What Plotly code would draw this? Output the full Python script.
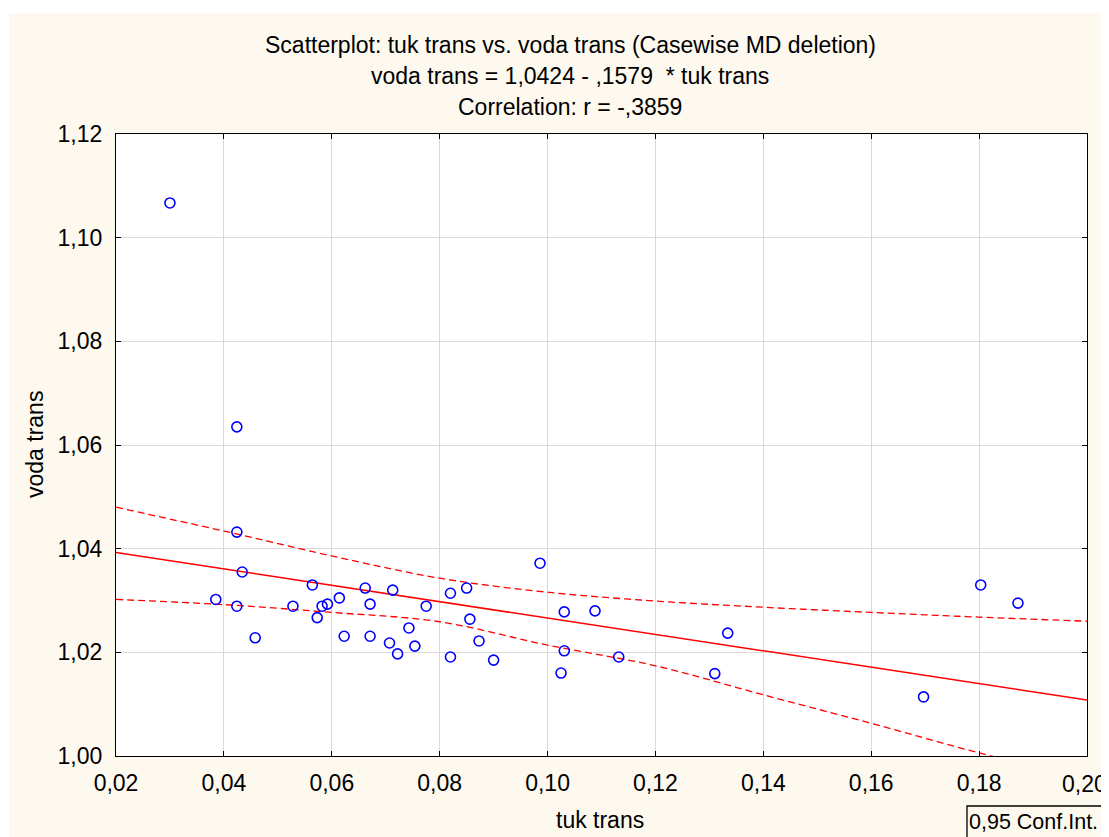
import plotly.graph_objects as go

# ---- data ----
tuk_trans = [0.0300, 0.0424, 0.0424, 0.0434, 0.0385, 0.0424, 0.0458, 0.0528, 0.0564, 0.0573,
             0.0582, 0.0592, 0.0614, 0.0623, 0.0662, 0.0671, 0.0671, 0.0707, 0.0713, 0.0722,
             0.0743, 0.0754, 0.0775, 0.0820, 0.0820, 0.0850, 0.0856, 0.0873, 0.0900, 0.0986,
             0.1025, 0.1031, 0.1031, 0.1088, 0.1132, 0.1310, 0.1334, 0.1697, 0.1803, 0.1872]
voda_trans = [1.1067, 1.0635, 1.0432, 1.0355, 1.0302, 1.0289, 1.0228, 1.0289, 1.0330, 1.0267,
              1.0289, 1.0293, 1.0305, 1.0231, 1.0324, 1.0293, 1.0231, 1.0218, 1.0320, 1.0197,
              1.0247, 1.0212, 1.0289, 1.0314, 1.0191, 1.0324, 1.0264, 1.0222, 1.0185, 1.0372,
              1.0160, 1.0278, 1.0203, 1.0280, 1.0191, 1.0159, 1.0237, 1.0114, 1.0330, 1.0295]

INTERCEPT = 1.0424
SLOPE = -0.1579

ci_x = [0.02, 0.04, 0.06, 0.08, 0.10, 0.12, 0.14, 0.16, 0.18, 0.20]
ci_upper = [1.0480, 1.0434, 1.0386, 1.0343, 1.0316, 1.0299, 1.0287, 1.0277, 1.0268, 1.0260]
ci_lower = [1.0302, 1.0292, 1.0277, 1.0259, 1.0214, 1.0174, 1.0118, 1.0063, 1.0006, 0.9955]

x_ticks = [0.02, 0.04, 0.06, 0.08, 0.10, 0.12, 0.14, 0.16, 0.18, 0.20]
x_ticklabels = ["0,02", "0,04", "0,06", "0,08", "0,10", "0,12", "0,14", "0,16", "0,18", "0,20"]
y_ticks = [1.00, 1.02, 1.04, 1.06, 1.08, 1.10, 1.12]

title_lines = ["Scatterplot: tuk trans vs. voda trans (Casewise MD deletion)",
               "voda trans = 1,0424 - ,1579  * tuk trans",
               "Correlation: r = -,3859"]

# ---- layout geometry (figure pixels; page body adds an 8px offset) ----
OFF = 8
W, H = 1109 - OFF, 837 - OFF
L, R, T, B = 116 - OFF, 1087 - OFF, 134 - OFF, 756 - OFF
pw, ph = R - L, B - T
def px(xs):  # screen x -> paper
    return (xs - OFF - L) / pw
def py(ys):  # screen y -> paper
    return (B - (ys - OFF)) / ph

FONT = "Liberation Sans, Arial, sans-serif"
FS = 23
CREAM = "#FDF9EF"
RED = "#FF0000"

fig = go.Figure()

line_x = [x_ticks[0], x_ticks[-1]]
line_y = [INTERCEPT + SLOPE * v for v in line_x]

fig.add_trace(go.Scatter(x=ci_x, y=ci_upper, mode="lines", line=dict(color=RED, width=1.3, dash="7px,4px", shape="spline"), hoverinfo="skip"))
fig.add_trace(go.Scatter(x=ci_x, y=ci_lower, mode="lines", line=dict(color=RED, width=1.3, dash="7px,4px", shape="spline"), hoverinfo="skip"))
fig.add_trace(go.Scatter(x=line_x, y=line_y, mode="lines", line=dict(color=RED, width=1.5)))
fig.add_trace(go.Scatter(x=tuk_trans, y=voda_trans, mode="markers",
                         marker=dict(symbol="circle-open", size=10, color="#0000FF", line=dict(width=1.6, color="#0000FF"))))

axis_common = dict(showgrid=True, gridcolor="#D9D9D9", gridwidth=1, zeroline=False,
                   showline=True, linecolor="black", linewidth=1.3, mirror="ticks",
                   ticks="inside", ticklen=5, tickcolor="black",
                   tickfont=dict(family=FONT, size=FS, color="black"))

# the last x label sits at the window edge: it is drawn as an annotation so it does not overflow the page
fig.update_layout(
    width=W, height=H,
    margin=dict(l=L, r=W - R, t=T, b=H - B),
    paper_bgcolor=CREAM, plot_bgcolor="white",
    showlegend=False, separators=", ",
    xaxis=dict(range=[0.02, 0.20], tickvals=x_ticks, ticktext=x_ticklabels[:-1] + [""],
               ticklabelstandoff=6, **axis_common),
    yaxis=dict(range=[1.00, 1.12], tickvals=y_ticks, tickformat=".2f", ticklabelstandoff=8, **axis_common),
    font=dict(family=FONT, size=FS, color="black"),
)
fig.add_annotation(text=x_ticklabels[-1], xref="paper", yref="paper", x=px(1108), y=py(784),
                   showarrow=False, xanchor="right", yanchor="middle", borderpad=0,
                   font=dict(family=FONT, size=FS, color="black"))

# white strips at top and left of the page
fig.add_shape(type="rect", xref="paper", yref="paper", x0=px(-40), x1=px(9), y0=py(900), y1=py(-40),
              fillcolor="white", line=dict(width=0), layer="below")
fig.add_shape(type="rect", xref="paper", yref="paper", x0=px(-40), x1=px(1200), y0=py(13), y1=py(-40),
              fillcolor="white", line=dict(width=0), layer="below")

# titles
for text, yc in zip(title_lines, [45, 76, 107]):
    fig.add_annotation(text=text, xref="paper", yref="paper", x=px(570), y=py(yc),
                       showarrow=False, xanchor="center", yanchor="middle",
                       font=dict(family=FONT, size=FS, color="black"))

fig.add_annotation(text="tuk trans", xref="paper", yref="paper", x=px(600), y=py(820),
                   showarrow=False, xanchor="center", yanchor="middle", font=dict(family=FONT, size=FS))
fig.add_annotation(text="voda trans", xref="paper", yref="paper", x=px(35), y=0.5, textangle=-90,
                   showarrow=False, xanchor="center", yanchor="middle", font=dict(family=FONT, size=FS))

# legend box
fig.add_shape(type="rect", xref="paper", yref="paper", x0=px(967), x1=px(1140), y0=py(870), y1=py(806),
              fillcolor=CREAM, line=dict(color="black", width=1.3))
fig.add_annotation(text="0,95 Conf.Int.", xref="paper", yref="paper", x=px(968), y=py(822),
                   showarrow=False, xanchor="left", yanchor="middle", borderpad=0,
                   font=dict(family=FONT, size=21.5))

fig.write_html("out.html")
